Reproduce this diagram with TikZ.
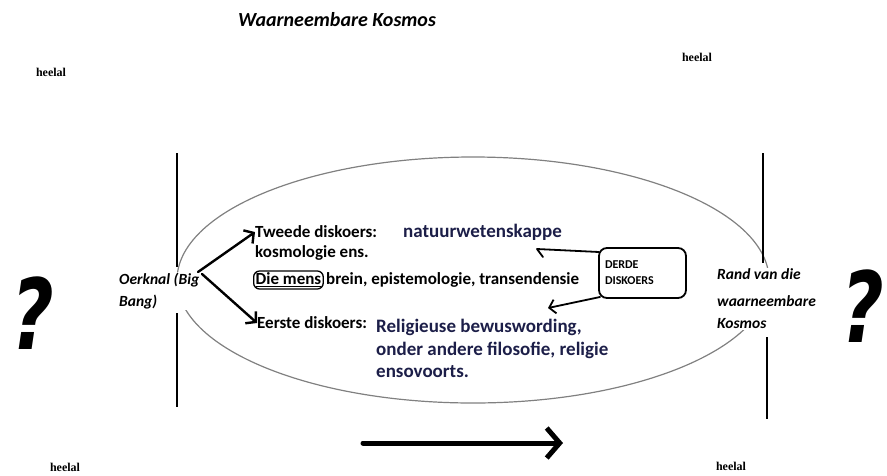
\documentclass[tikz,border=0pt]{standalone}
\usepackage{fontspec}
\setmainfont{Carlito}
\newfontfamily\heelfont{Liberation Serif}
\newfontfamily\qfont{DejaVu Sans}
\usetikzlibrary{arrows.meta}
\definecolor{navy}{RGB}{28,30,72}
\definecolor{ellgray}{RGB}{128,128,128}
\begin{document}
\begin{tikzpicture}[x=1pt,y=-1pt,
  txt/.style={inner sep=0pt, anchor=west, font=\bfseries\fontsize{17}{20}\selectfont},
  bluetxt/.style={inner sep=0pt, font=\bfseries\fontsize{19}{22.5}\selectfont, text=navy},
  heel/.style={inner sep=0pt, font=\heelfont\bfseries\fontsize{12}{14}\selectfont},
  itxt/.style={inner sep=1pt, fill=white, align=left, font=\bfseries\itshape\fontsize{15.5}{22}\selectfont},
  qmark/.style={inner sep=0pt, xscale=0.75, transform shape, font=\qfont\bfseries\itshape\fontsize{98}{98}\selectfont},
  vline/.style={line width=2.4pt, black},
  arr/.style={line width=2.4pt, -{Straight Barb[length=7pt,width=16pt]}, line cap=round},
  thinarr/.style={line width=1.8pt, line cap=round, line join=round},
  bigarr/.style={line width=5pt, line cap=round, -{Straight Barb[length=13pt,width=30pt]}}
]
\useasboundingbox (0,0) rectangle (887,475);

% title and heelal labels
\node[inner sep=0pt, font=\bfseries\itshape\fontsize{20}{24}\selectfont] (title) at (337,20) {Waarneembare Kosmos};
\node[heel] (heelTL) at (51,72) {heelal};
\node[heel] (heelTR) at (697,57) {heelal};
\node[heel] (heelBL) at (65,467) {heelal};
\node[heel] (heelBR) at (731,466) {heelal};

% ellipse
\draw[ellgray, line width=1.2pt] (473,280) ellipse [x radius=296, y radius=123];

% vertical lines
\draw[vline] (177,153) -- (177,267);
\draw[vline] (177,313) -- (177,407);
\draw[vline] (763,153) -- (763,263);
\draw[vline] (767,337) -- (767,419);

% side labels
\node[itxt, anchor=west] (oerknal) at (118,291) {Oerknal (Big\\Bang)};
\node[itxt, anchor=west] (rand) at (716,299) {Rand van die\\[5pt]waarneembare\\Kosmos};

% question marks
\node[qmark] (q1) at (33,313) {?};
\node[qmark] (q2) at (863,306) {?};

% inner texts
\node[txt] (tweede) at (255,232) {Tweede diskoers:};
\node[txt] (kosmo) at (255,253) {kosmologie ens.};
\node[txt, draw, line width=1.3pt, rounded corners=6pt, inner sep=2pt] (mens) at (253,280) {\underline{Die mens}};
\node[txt] (brein) at (326,280) {brein, epistemologie, transendensie};
\node[txt] (eerste) at (257,323) {Eerste diskoers:};
\node[bluetxt, anchor=west] (natuur) at (403,232) {natuurwetenskappe};
\node[bluetxt, anchor=north west, align=left] (relig) at (376,319) {Religieuse bewuswording,\\onder andere filosofie, religie\\ensovoorts.};

% derde diskoers box
\node[draw, line width=1.8pt, rounded corners=8pt, minimum width=87pt, minimum height=50pt,
      inner sep=5pt, text width=75pt, align=left,
      font=\bfseries\fontsize{12}{16}\selectfont] (derde) at (642.5,273) {DERDE\\DISKOERS};

% arrows from Oerknal
\coordinate (o1) at (198,272);
\coordinate (o2) at (202,274);
\draw[arr] (o1) -- (tweede.west);
\draw[arr] (o2) -- (eerste.west);

% arrows from derde diskoers
\coordinate (d1) at (599,252);
\coordinate (d2) at (600,297);
\coordinate (n1) at (537,249);
\coordinate (r1) at (548,308);
\draw[thinarr] (d1) -- (n1) -- ++(6,8);
\draw[thinarr, -{Straight Barb[length=6pt,width=14pt]}] (d2) -- (r1);

% bottom arrow
\coordinate (ba) at (363,443);
\coordinate (bb) at (563,443);
\draw[bigarr] (ba) -- (bb);
\end{tikzpicture}
\end{document}
